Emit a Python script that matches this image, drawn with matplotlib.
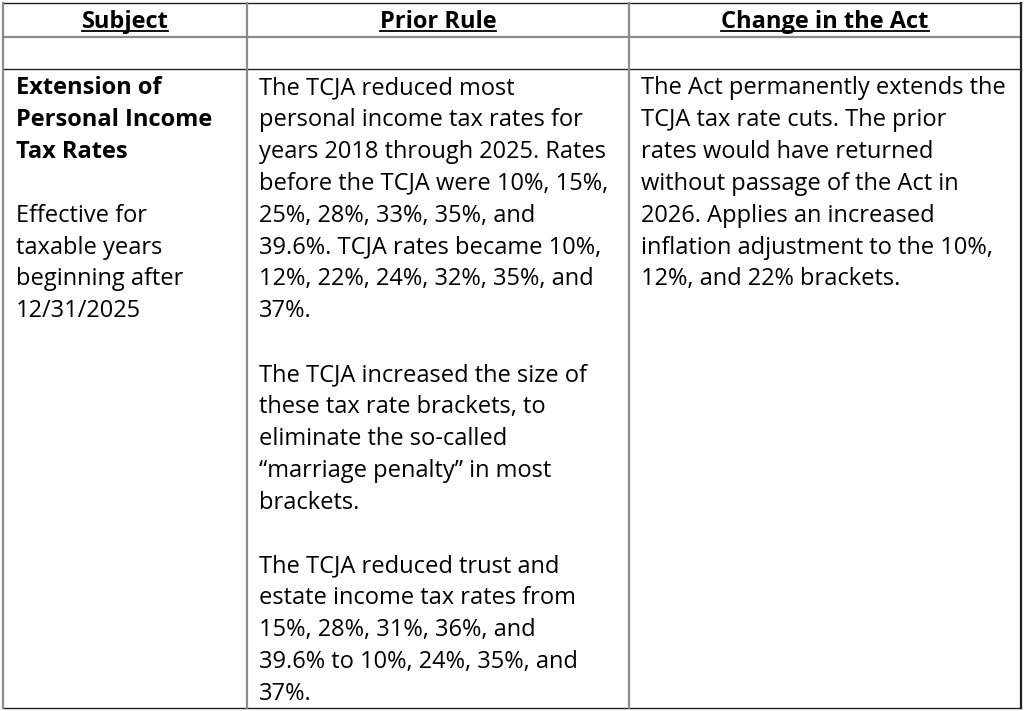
import matplotlib
matplotlib.use("Agg")
import matplotlib.pyplot as plt

# ---- data ----
headers = ["Subject", "Prior Rule", "Change in the Act"]
subject_bold = ["Extension of", "Personal Income", "Tax Rates"]
subject_plain = ["", "Effective for", "taxable years", "beginning after", "12/31/2025"]
prior_rule = [
    "The TCJA reduced most",
    "personal income tax rates for",
    "years 2018 through 2025. Rates",
    "before the TCJA were 10%, 15%,",
    "25%, 28%, 33%, 35%, and",
    "39.6%. TCJA rates became 10%,",
    "12%, 22%, 24%, 32%, 35%, and",
    "37%.",
    "",
    "The TCJA increased the size of",
    "these tax rate brackets, to",
    "eliminate the so-called",
    "\u201cmarriage penalty\u201d in most",
    "brackets.",
    "",
    "The TCJA reduced trust and",
    "estate income tax rates from",
    "15%, 28%, 31%, 36%, and",
    "39.6% to 10%, 24%, 35%, and",
    "37%.",
]
change_in_act = [
    "The Act permanently extends the",
    "TCJA tax rate cuts. The prior",
    "rates would have returned",
    "without passage of the Act in",
    "2026. Applies an increased",
    "inflation adjustment to the 10%,",
    "12%, and 22% brackets.",
]

# ---- layout ----
W, H = 1025, 711
FONT = "Open Sans"
FS = 17
col_edges = [3, 247, 629, 1021]
row_lines = [3, 37, 69, 708]
first_base = 94
step = 31.9
pad = 13

fig = plt.figure(figsize=(W / 100, H / 100), dpi=100)
ax = fig.add_axes([0, 0, 1, 1])
ax.set_xlim(0, W)
ax.set_ylim(H, 0)
ax.axis("off")

gray = "#8c8c8c"
# horizontal lines
ax.plot([col_edges[0], col_edges[-1]], [row_lines[0], row_lines[0]], color="#222222", lw=1.0)
ax.plot([col_edges[0], col_edges[-1]], [row_lines[1], row_lines[1]], color=gray, lw=1.6)
ax.plot([col_edges[0], col_edges[-1]], [row_lines[2], row_lines[2]], color="#222222", lw=1.0)
ax.plot([col_edges[0], col_edges[-1]], [row_lines[3], row_lines[3]], color="#222222", lw=1.0)
# vertical lines
for i, x in enumerate(col_edges):
    c = "#222222" if i == len(col_edges) - 1 else gray
    ax.plot([x, x], [row_lines[0], row_lines[-1]], color=c if i != 0 else gray, lw=1.6)

# headers with underline
fig.canvas.draw()
renderer = fig.canvas.get_renderer()
inv = ax.transData.inverted()
for i, h in enumerate(headers):
    cx = (col_edges[i] + col_edges[i + 1]) / 2
    t = ax.text(cx, 28, h, ha="center", va="baseline", fontsize=FS,
                fontweight="bold", family=FONT, color="black")
    bb = t.get_window_extent(renderer=renderer)
    (x0, _), (x1, _) = inv.transform([(bb.x0, 0), (bb.x1, 0)])
    ax.plot([x0, x1], [31, 31], color="black", lw=1.3)

# body
def draw_lines(x, lines, start_idx, bold=False):
    for k, s in enumerate(lines):
        if s:
            ax.text(x, first_base + (start_idx + k) * step, s, ha="left", va="baseline",
                    fontsize=FS, family=FONT, fontweight="bold" if bold else "normal",
                    color="black")

draw_lines(col_edges[0] + pad, subject_bold, 0, bold=True)
draw_lines(col_edges[0] + pad, subject_plain, len(subject_bold))
draw_lines(col_edges[1] + pad - 1, prior_rule, 0)
draw_lines(col_edges[2] + pad - 1, change_in_act, 0)

fig.savefig("out.png", dpi=100)
